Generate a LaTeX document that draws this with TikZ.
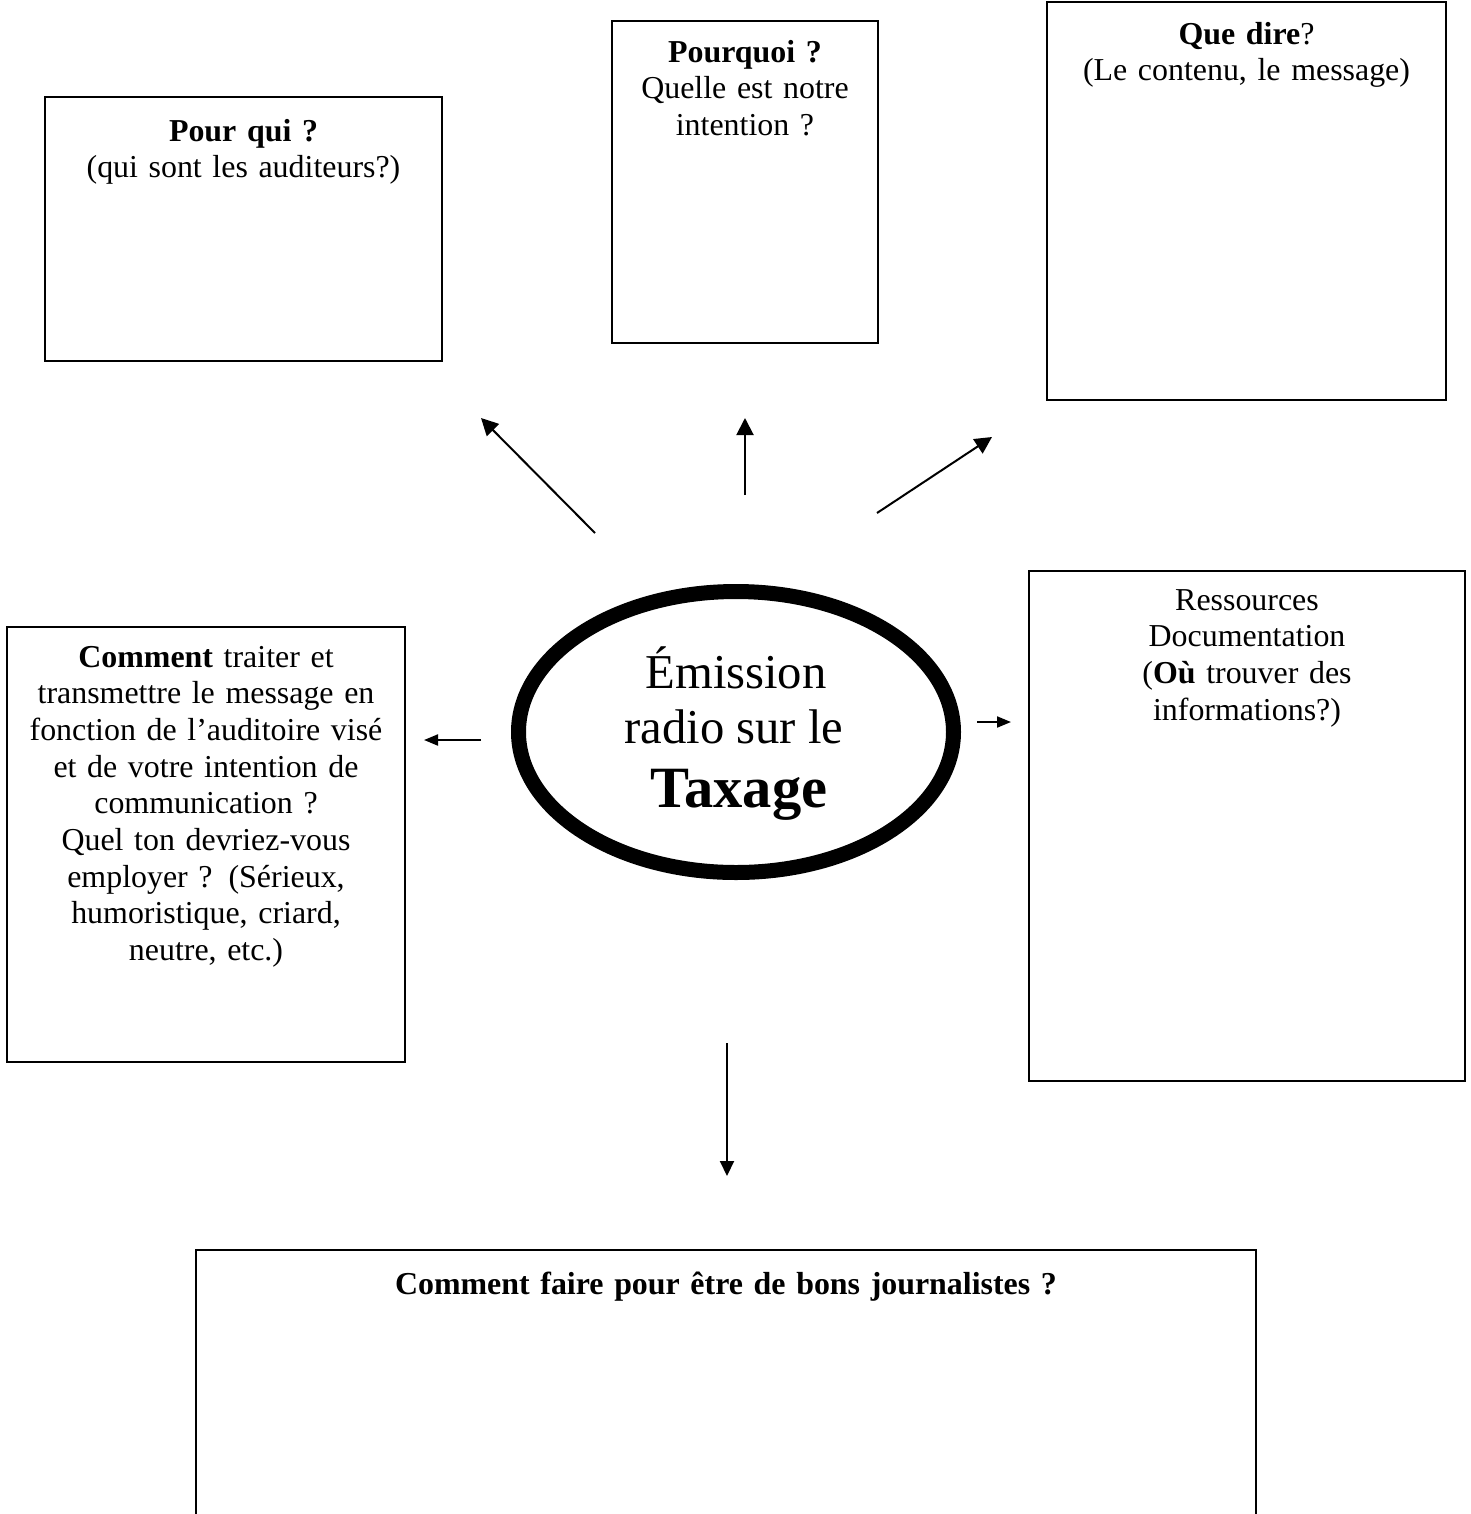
\documentclass[tikz,border=0pt]{standalone}
\usepackage{fontspec}
\setmainfont{Liberation Serif}
\usetikzlibrary{arrows.meta,shapes.geometric}
\def\pxu{0.376pt}
\tikzset{
  box/.style={draw, line width=2*\pxu, rectangle, inner sep=0, outer sep=0},
  txt/.style={align=center, inner sep=0, outer sep=0, font=\fontsize{12}{13.8}\selectfont},
  conn/.style={line width=2*\pxu, -{Triangle[length=17*\pxu, width=17*\pxu]}},
  sconn/.style={line width=2*\pxu, -{Triangle[length=14*\pxu, width=11*\pxu]}},
  dconn/.style={line width=2*\pxu, -{Triangle[length=15*\pxu, width=14*\pxu]}},
  eltxt/.style={inner sep=0, anchor=base, font=\fontsize{18.3}{21}\selectfont},
}
\begin{document}
\begin{tikzpicture}[x=0.376pt, y=-0.376pt]
\useasboundingbox (0,0) rectangle (1471,1514);

% boxes
\node[box, minimum width=397*\pxu, minimum height=264*\pxu] (A) at (243.5,229) {};
\node[box, minimum width=266*\pxu, minimum height=322*\pxu] (B) at (745,182) {};
\node[box, minimum width=399*\pxu, minimum height=398*\pxu] (C) at (1246.5,201) {};
\node[box, minimum width=398*\pxu, minimum height=435*\pxu] (D) at (206,844.5) {};
\node[box, minimum width=436*\pxu, minimum height=510*\pxu] (E) at (1247,826) {};
\coordinate (F1) at (196,1520);
\coordinate (F2) at (196,1250);
\coordinate (F3) at (1256,1250);
\coordinate (F4) at (1256,1520);
\draw[line width=2*\pxu] (F1) -- (F2) -- (F3) -- (F4);

% texts
\node[txt, text width=390*\pxu, anchor=base] (At) at (243.5,141)
  {\textbf{Pour qui ?}\\(qui sont les auditeurs?)};
\node[txt, text width=260*\pxu, anchor=base] (Bt) at (745,62)
  {\textbf{Pourquoi ?}\\Quelle est notre\\intention ?};
\node[txt, text width=390*\pxu, anchor=base] (Ct) at (1246.5,44)
  {\textbf{Que dire}?\\(Le contenu, le message)};
\node[txt, text width=390*\pxu, anchor=base] (Dt) at (206,667)
  {\textbf{Comment} traiter et\\transmettre le message en\\fonction de l’auditoire visé\\et de votre intention de\\communication ?\\Quel ton devriez-vous\\employer ? (Sérieux,\\humoristique, criard,\\neutre, etc.)};
\node[txt, text width=420*\pxu, anchor=base] (Et) at (1247,610)
  {Ressources\\Documentation\\(\textbf{Où} trouver des\\informations?)};
\node[txt, text width=1000*\pxu, anchor=base] (Ft) at (726,1294)
  {\textbf{Comment faire pour être de bons journalistes ?}};

% central ellipse
\node[draw, ellipse, line width=15*\pxu, minimum width=435*\pxu, minimum height=281*\pxu, inner sep=0] (M) at (736,732) {};
\node[eltxt] (M1) at (736,688) {Émission};
\node[eltxt] (M2) at (734,743) {radio sur le};
\node[eltxt, font=\fontsize{22}{25}\selectfont\bfseries] (M3) at (739,807) {Taxage};

% arrows
\coordinate (a1s) at (595,533); \coordinate (a1e) at (481,418);
\coordinate (a2s) at (745,495); \coordinate (a2e) at (745,418);
\coordinate (a3s) at (877,513); \coordinate (a3e) at (992,437);
\coordinate (a4s) at (481,740); \coordinate (a4e) at (424,740);
\coordinate (a5s) at (977,722); \coordinate (a5e) at (1011,722);
\coordinate (a6s) at (727,1043); \coordinate (a6e) at (727,1176);
\draw[conn] (a1s) -- (a1e);
\draw[conn] (a2s) -- (a2e);
\draw[conn] (a3s) -- (a3e);
\draw[sconn] (a4s) -- (a4e);
\draw[sconn] (a5s) -- (a5e);
\draw[dconn] (a6s) -- (a6e);
\end{tikzpicture}
\end{document}
